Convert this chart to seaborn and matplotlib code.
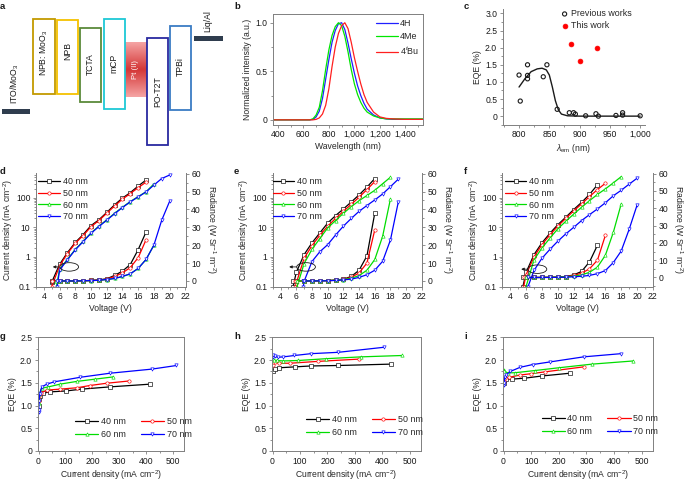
import numpy as np
import pandas as pd
import matplotlib
matplotlib.use("Agg")
import matplotlib.pyplot as plt
import seaborn as sns
from matplotlib.patches import Rectangle, Ellipse
from matplotlib.colors import LinearSegmentedColormap
from matplotlib.ticker import FixedLocator, FixedFormatter, FuncFormatter, MultipleLocator, LogLocator, NullFormatter

sns.set_theme(style="ticks")
plt.rcParams['font.family'] = ['Liberation Sans', 'DejaVu Sans']
plt.rcParams['mathtext.fontset'] = 'custom'
plt.rcParams['mathtext.rm'] = 'Liberation Sans'
plt.rcParams['mathtext.it'] = 'Liberation Sans:italic'
plt.rcParams['axes.unicode_minus'] = True

# ---------------- b: normalized PL spectra
wl = [360, 650, 675, 700, 725, 750, 775, 800, 825, 850, 875, 900, 925, 950, 975,
      1000, 1025, 1050, 1075, 1100, 1150, 1200, 1250, 1300, 1400, 1535]
pl_4H = [0, 0, 0.005, 0.03, 0.09, 0.22, 0.42, 0.62, 0.80, 0.92, 0.99, 1.0, 0.93, 0.79, 0.63,
         0.48, 0.35, 0.25, 0.17, 0.11, 0.05, 0.02, 0.01, 0.005, 0.005, 0.005]
pl_4Me = [0, 0, 0.01, 0.05, 0.13, 0.30, 0.52, 0.72, 0.87, 0.96, 1.0, 0.97, 0.86, 0.70, 0.52,
          0.37, 0.26, 0.18, 0.12, 0.08, 0.04, 0.02, 0.01, 0.01, 0.01, 0.01]
pl_4tBu = [0, 0, 0, 0.005, 0.02, 0.06, 0.15, 0.32, 0.55, 0.75, 0.89, 0.97, 1.0, 0.94, 0.80,
           0.64, 0.50, 0.37, 0.26, 0.18, 0.08, 0.03, 0.015, 0.01, 0.005, 0.005]

# ---------------- c: EQE vs emission wavelength
prev_wl = [800, 802, 814, 814, 814, 840, 846, 863, 883, 890, 893, 910, 927, 931, 960, 971, 971, 1000]
prev_eqe = [1.2, 0.44, 1.5, 1.19, 1.09, 1.15, 1.5, 0.2, 0.1, 0.1, 0.06, 0.01, 0.07, 0.0, 0.02, 0.1, 0.03, 0.01]
this_wl = [885, 900, 929]
this_eqe = [2.1, 1.6, 2.0]
fit_wl = [800, 810, 820, 830, 838, 845, 850, 855, 860, 865, 870, 880, 900, 1000]
fit_eqe = [0.85, 1.1, 1.3, 1.38, 1.4, 1.35, 1.2, 0.85, 0.45, 0.18, 0.06, 0.01, 0.0, 0.0]

# ---------------- d/e/f: J-V-R
thick = [40, 50, 60, 70]
colors = ['#000000', '#ff0000', '#00dd00', '#0000ff']
marks = ['s', 'o', '^', 'v']

d_V40 = [5, 6, 7, 8, 9, 10, 11, 12, 13, 14, 15, 16, 17]
d_J40 = [0.14, 0.56, 1.4, 3.1, 5.7, 11.5, 18, 32, 58, 98, 150, 250, 400]
d_R40 = [0, 0, 0, 0.05, 0.1, 0.3, 0.6, 1.2, 3.1, 5.5, 9.2, 17.5, 27.3]
d_V50 = [5, 6, 7, 8, 9, 10, 11, 12, 13, 14, 15, 16, 17]
d_J50 = [0.1, 0.5, 1.3, 2.9, 5.3, 10.5, 17, 30, 53, 90, 140, 220, 340]
d_R50 = [0, 0, 0, 0.05, 0.1, 0.3, 0.5, 1.0, 2.5, 4.5, 7.5, 13, 23]
d_V60 = [5.6, 6, 7, 8, 9, 10, 11, 12, 13, 14, 15, 16, 17, 18]
d_J60 = [0.1, 0.38, 0.83, 1.8, 3.4, 6.5, 11, 18, 30, 48, 75, 110, 160, 295]
d_R60 = [0, 0, 0, 0, 0.1, 0.2, 0.4, 0.8, 1.4, 2.5, 4, 7, 12, 20]
d_V70 = [5.7, 6, 7, 8, 9, 10, 11, 12, 13, 14, 15, 16, 17, 18, 19, 20]
d_J70 = [0.1, 0.36, 0.8, 1.75, 3.3, 6.3, 10.7, 17.5, 29, 47, 73, 107, 158, 270, 450, 590]
d_R70 = [0, 0, 0, 0, 0.1, 0.2, 0.4, 0.8, 1.4, 2.5, 4, 7, 12, 20, 34, 44.5]

e_V40 = [5.6, 6, 7, 8, 9, 10, 11, 12, 13, 14, 15, 16]
e_J40 = [0.1, 0.3, 1.2, 3.0, 6.5, 14, 25, 42, 72, 126, 230, 450]
e_R40 = [0, 0, 0, 0.05, 0.1, 0.2, 0.5, 1.0, 2.5, 6, 14, 38]
e_V50 = [5.9, 6, 7, 8, 9, 10, 11, 12, 13, 14, 15, 16]
e_J50 = [0.1, 0.13, 0.9, 2.4, 5.4, 11, 20, 35, 60, 105, 190, 355]
e_R50 = [0, 0, 0, 0.05, 0.1, 0.2, 0.4, 0.9, 2, 4.5, 10, 28.6]
e_V60 = [6.1, 7, 8, 9, 10, 11, 12, 13, 14, 15, 16, 17, 18]
e_J60 = [0.1, 0.6, 1.8, 4.2, 9.6, 17, 30, 50, 80, 120, 180, 300, 500]
e_R60 = [0, 0, 0.05, 0.1, 0.2, 0.4, 0.8, 1.5, 3, 6, 12, 25, 46]
e_V70 = [6.9, 7, 8, 9, 10, 11, 12, 13, 14, 15, 16, 17, 18, 19]
e_J70 = [0.1, 0.15, 0.7, 1.5, 2.6, 5.5, 11, 20, 35, 55, 85, 135, 240, 430]
e_R70 = [0, 0, 0, 0.05, 0.1, 0.3, 0.6, 1, 2, 3.5, 6, 11, 23, 44.3]

f_V40 = [5.6, 6, 7, 8, 9, 10, 11, 12, 13, 14, 15]
f_J40 = [0.1, 0.3, 1.2, 3.0, 6.3, 12.3, 22, 40, 70, 130, 275]
f_R40 = [0, 0, 0, 0.05, 0.1, 0.2, 0.5, 1.5, 3.5, 9, 18.6]
f_V50 = [5.7, 6, 7, 8, 9, 10, 11, 12, 13, 14, 15, 16]
f_J50 = [0.1, 0.25, 1.0, 2.6, 5.5, 11, 20, 36, 62, 110, 190, 310]
f_R50 = [0, 0, 0, 0.05, 0.1, 0.2, 0.5, 1.2, 2.5, 5, 10, 24.3]
f_V60 = [6.0, 7, 8, 9, 10, 11, 12, 13, 14, 15, 16, 17, 18]
f_J60 = [0.1, 0.8, 2.0, 4.3, 8.9, 16, 28, 48, 80, 130, 200, 320, 520]
f_R60 = [0, 0, 0.05, 0.1, 0.2, 0.4, 0.8, 1.5, 3, 6, 12.8, 26, 42.5]
f_V70 = [6.25, 7, 8, 9, 10, 11, 12, 13, 14, 15, 16, 17, 18, 19, 20]
f_J70 = [0.1, 0.35, 0.9, 1.8, 3.4, 6, 10, 17, 27, 42, 68, 117, 180, 290, 460]
f_R70 = [0, 0, 0, 0.05, 0.1, 0.2, 0.4, 0.7, 1.2, 2.2, 4, 8.6, 15.3, 27.8, 41.8]

# ---------------- g/h/i: EQE vs current density
g_J40 = [0.5, 2, 5, 15, 43, 101, 160, 265, 415]
g_E40 = [1.0, 1.15, 1.22, 1.27, 1.30, 1.32, 1.36, 1.41, 1.47]
g_J50 = [0.5, 3, 10, 31, 80, 142, 191, 253, 337]
g_E50 = [1.1, 1.22, 1.28, 1.34, 1.36, 1.39, 1.44, 1.49, 1.54]
g_J60 = [0.5, 3, 12, 37, 80, 142, 210, 278]
g_E60 = [1.05, 1.25, 1.38, 1.41, 1.47, 1.53, 1.58, 1.63]
g_J70 = [0.5, 1, 2, 4, 12, 31, 58, 154, 265, 420, 512]
g_E70 = [0.85, 0.9, 1.1, 1.25, 1.41, 1.47, 1.52, 1.62, 1.71, 1.80, 1.88]

h_J40 = [0.5, 9, 24, 82, 140, 240, 430]
h_E40 = [1.77, 1.80, 1.83, 1.85, 1.87, 1.88, 1.91]
h_J50 = [0.5, 2, 9, 24, 64, 164, 314]
h_E50 = [1.9, 1.96, 1.95, 1.93, 1.93, 1.97, 2.02]
h_J60 = [0.5, 5, 15, 39, 94, 196, 323, 473]
h_E60 = [2.02, 2.0, 1.99, 1.98, 1.99, 2.03, 2.07, 2.10]
h_J70 = [0.5, 2, 8, 20, 40, 80, 140, 240, 405]
h_E70 = [2.07, 2.1, 2.08, 2.06, 2.07, 2.1, 2.14, 2.17, 2.28]

i_J40 = [0.5, 3, 10, 30, 75, 140, 240]
i_E40 = [1.5, 1.56, 1.58, 1.58, 1.6, 1.65, 1.71]
i_J50 = [0.5, 5, 20, 60, 100, 150, 290]
i_E50 = [1.55, 1.6, 1.62, 1.67, 1.7, 1.74, 1.85]
i_J60 = [0.5, 3, 15, 40, 115, 200, 320, 470]
i_E60 = [1.78, 1.75, 1.72, 1.72, 1.77, 1.83, 1.91, 1.98]
i_J70 = [0.5, 2, 5, 10, 25, 60, 105, 170, 290, 425]
i_E70 = [1.45, 1.5, 1.62, 1.68, 1.75, 1.84, 1.9, 1.96, 2.07, 2.14]

W, H = 685, 482
fig = plt.figure(figsize=(W / 100, H / 100), dpi=100)
SP = '#808080'
TXT = '#1a1a1a'
FS_T, FS_L, FS_LEG = 6.2, 6.2, 6.4


def px_axes(l, t, r, b):
    return fig.add_axes([l / W, 1 - b / H, (r - l) / W, (b - t) / H])


def style(ax, show=('left', 'bottom', 'top', 'right')):
    for s in ['left', 'bottom', 'top', 'right']:
        ax.spines[s].set_visible(s in show)
        ax.spines[s].set_color(SP)
        ax.spines[s].set_linewidth(0.7)
    ax.tick_params(which='both', direction='out', color=SP, labelsize=FS_T, labelcolor=TXT,
                   width=0.6, pad=1.5)
    ax.tick_params(which='major', length=2.5)
    ax.tick_params(which='minor', length=1.4)
    ax.xaxis.label.set_size(FS_L)
    ax.yaxis.label.set_size(FS_L)


def plabel(x, y, s):
    fig.text(x / W, 1 - y / H, s, fontsize=6.8, fontweight='bold', ha='left', va='top', color='k')


# ================= a: energy level diagram
ax_a = px_axes(0, 0, 230, 150)
ax_a.set_xlim(0, 230)
ax_a.set_ylim(150, 0)
ax_a.axis('off')
boxes = [
    (32.7, 19.3, 55.0, 94.3, '#c39a00', 'NPB: MoO$_3$', 53),
    (56.7, 20.0, 78.3, 94.3, '#f5c200', 'NPB', 51),
    (80.0, 27.7, 101.0, 101.7, '#5b8a3a', 'TCTA', 64),
    (103.7, 19.3, 124.7, 109.0, '#1ec8d6', 'mCP', 63),
    (146.7, 38.3, 168.3, 145.0, '#2a2aa0', 'PO-T2T', 92),
    (170.0, 25.7, 191.0, 110.0, '#3a7cc4', 'TPBi', 67),
]
for x0, y0, x1, y1, c, lab, ty in boxes:
    ax_a.add_patch(Rectangle((x0, y0), x1 - x0, y1 - y0, fill=True, facecolor='white',
                             edgecolor=c, lw=1.3, zorder=3))
    ax_a.text((x0 + x1) / 2, ty, lab, rotation=90, ha='center', va='center', fontsize=6.2, color=TXT, zorder=4)
grad = np.concatenate([np.linspace(0, 1, 30), np.linspace(1, 0, 30)]).reshape(-1, 1)
cm_pt = LinearSegmentedColormap.from_list('pt', ['#f5a3a3', '#d43838'])
ax_a.imshow(grad, cmap=cm_pt, extent=[124.7, 146.7, 97.3, 42.7], aspect='auto', zorder=2)
ax_a.text(135.7, 70, 'Pt (II)', rotation=90, ha='center', va='center', fontsize=5.5, color='white', zorder=4)
ax_a.add_patch(Rectangle((2.3, 109.3), 27.7, 4.5, color='#2f3d4e', lw=0, zorder=3))
ax_a.add_patch(Rectangle((194.3, 36.0), 29.0, 4.5, color='#2f3d4e', lw=0, zorder=3))
ax_a.text(15, 104, 'ITO/MoO$_3$', rotation=90, ha='center', va='bottom', fontsize=6.2, color=TXT)
ax_a.text(208, 32, 'Liq/Al', rotation=90, ha='center', va='bottom', fontsize=6.2, color=TXT)
plabel(0, 2, 'a')

# ================= b: PL spectra
ax_b = px_axes(272.7, 14, 422.7, 124.7)
df_b = pd.DataFrame({'wl': wl * 3, 'I': pl_4H + pl_4Me + pl_4tBu,
                     'dye': ['4H'] * len(wl) + ['4Me'] * len(wl) + ['4$^t$Bu'] * len(wl)})
for name, c in zip(['4H', '4Me', '4$^t$Bu'], ['#1f1fff', '#00e600', '#ff1f1f']):
    sub = df_b[df_b.dye == name]
    sns.lineplot(data=sub, x='wl', y='I', ax=ax_b, color=c, lw=0.9, label=name, legend=False)
ax_b.set_xlim(360, 1535)
ax_b.set_ylim(-0.05, 1.09)
ax_b.xaxis.set_major_locator(MultipleLocator(200))
ax_b.xaxis.set_minor_locator(MultipleLocator(100))
ax_b.xaxis.set_major_formatter(FuncFormatter(lambda v, p: f"{int(v):,}"))
ax_b.yaxis.set_major_locator(FixedLocator([0, 0.5, 1.0]))
ax_b.yaxis.set_major_formatter(FixedFormatter(['0', '0.5', '1.0']))
ax_b.yaxis.set_minor_locator(MultipleLocator(0.25))
ax_b.set_xlabel('Wavelength (nm)', labelpad=2)
ax_b.set_ylabel('Normalized intensity (a.u.)', labelpad=2)
style(ax_b)
ax_b.legend(loc='upper left', bbox_to_anchor=(0.69, 0.955), frameon=False, fontsize=FS_LEG,
            handlelength=2.4, handletextpad=0.3, labelspacing=0.45, borderaxespad=0, borderpad=0)
plabel(234, 2, 'b')

# ================= c: EQE vs lambda_em
ax_c = px_axes(502.7, 9.3, 645, 124.7)
sns.lineplot(x=fit_wl, y=fit_eqe, ax=ax_c, color='k', lw=1.0, legend=False)
sns.scatterplot(x=prev_wl, y=prev_eqe, ax=ax_c, marker='o', s=9, facecolor='none',
                edgecolor='k', linewidth=0.8, label='Previous works', legend=False, zorder=3)
sns.scatterplot(x=this_wl, y=this_eqe, ax=ax_c, marker='o', s=12, color='#ff0000',
                edgecolor='#ff0000', linewidth=0.5, label='This work', legend=False, zorder=3)
ax_c.set_xlim(773, 1008)
ax_c.set_ylim(-0.25, 3.12)
ax_c.xaxis.set_major_locator(MultipleLocator(50))
ax_c.xaxis.set_minor_locator(MultipleLocator(25))
ax_c.xaxis.set_major_formatter(FuncFormatter(lambda v, p: f"{int(v):,}"))
ax_c.yaxis.set_major_locator(MultipleLocator(0.5))
ax_c.yaxis.set_minor_locator(MultipleLocator(0.25))
ax_c.yaxis.set_major_formatter(FuncFormatter(lambda v, p: '0' if abs(v) < 1e-9 else f"{v:.1f}"))
ax_c.set_xlabel(r'$\lambda_{\rm em}$ (nm)', labelpad=2)
ax_c.set_ylabel('EQE (%)', labelpad=2)
style(ax_c, ('left', 'bottom'))
hc, lc = ax_c.get_legend_handles_labels()
ax_c.legend(handles=hc, labels=lc, loc='upper left',
            bbox_to_anchor=(0.41, 1.0), frameon=False, fontsize=FS_LEG, handlelength=0.8,
            handletextpad=0.35, labelspacing=0.3, borderaxespad=0, borderpad=0)
plabel(464, 2, 'c')

# ================= d/e/f: J-V-R
jv_sets = {
    'd': [(d_V40, d_J40, d_R40), (d_V50, d_J50, d_R50), (d_V60, d_J60, d_R60), (d_V70, d_J70, d_R70)],
    'e': [(e_V40, e_J40, e_R40), (e_V50, e_J50, e_R50), (e_V60, e_J60, e_R60), (e_V70, e_J70, e_R70)],
    'f': [(f_V40, f_J40, f_R40), (f_V50, f_J50, f_R50), (f_V60, f_J60, f_R60), (f_V70, f_J70, f_R70)],
}
jv_layout = {
    'd': dict(l=36.0, r=185.7, rlim=(-3.1, 60.2), ell=(0.222, 0.173), arr=0.112, lx=0.015, pl=0),
    'e': dict(l=272.7, r=422.3, rlim=(-3.1, 60.2), ell=(0.223, 0.173), arr=0.11, lx=0.0, pl=234),
    'f': dict(l=502.3, r=653.3, rlim=(-5.2, 60.2), ell=(0.232, 0.153), arr=0.125, lx=0.018, pl=464),
}
for key in ['d', 'e', 'f']:
    lay = jv_layout[key]
    ax = px_axes(lay['l'], 173.3, lay['r'], 286.5)
    ax2 = ax.twinx()
    ax.set_yscale('log')
    for (V, J, R), thk, c, m in zip(jv_sets[key], thick, colors, marks):
        sns.lineplot(x=V, y=J, ax=ax, color=c, lw=0.9, marker=m, markersize=2.4,
                     markerfacecolor='white', markeredgecolor=c, markeredgewidth=0.45,
                     label=f'{thk} nm', legend=False)
        sns.lineplot(x=V, y=R, ax=ax2, color=c, lw=0.9, marker=m, markersize=2.4,
                     markerfacecolor='white', markeredgecolor=c, markeredgewidth=0.45, legend=False)
    ax.set_xlim(3.0, 22.05)
    ax.set_ylim(0.1, 676)
    ax2.set_ylim(*lay['rlim'])
    ax.xaxis.set_major_locator(MultipleLocator(2))
    ax.xaxis.set_minor_locator(MultipleLocator(1))
    ax.yaxis.set_major_locator(FixedLocator([0.1, 1, 10, 100]))
    ax.yaxis.set_major_formatter(FixedFormatter(['0.1', '1', '10', '100']))
    ax.yaxis.set_minor_locator(LogLocator(base=10, subs=np.arange(2, 10) * 1.0))
    ax.yaxis.set_minor_formatter(NullFormatter())
    ax2.yaxis.set_major_locator(MultipleLocator(10))
    ax2.yaxis.set_minor_locator(MultipleLocator(5))
    ax.set_xlabel('Voltage (V)', labelpad=2)
    ax.set_ylabel('Current density (mA cm$^{-2}$)', labelpad=1)
    ax2.set_ylabel('Radiance (W Sr$^{-1}$ m$^{-2}$)', rotation=270, va='bottom', labelpad=2)
    style(ax, ('left', 'bottom', 'right'))
    style(ax2, ('left', 'bottom', 'right'))
    ex, ey = lay['ell']
    ax2.add_patch(Ellipse((ex, ey), 0.125, 0.075, transform=ax2.transAxes, fill=False,
                          lw=0.6, edgecolor='k', zorder=5))
    ax2.annotate('', xy=(lay['arr'], ey), xytext=(ex - 0.0625, ey), xycoords='axes fraction',
                 arrowprops=dict(arrowstyle='-|>', lw=0.6, color='k', mutation_scale=4,
                                 shrinkA=0, shrinkB=0))
    ax2.legend(handles=ax.get_lines()[:4], loc='upper left', bbox_to_anchor=(lay['lx'], 0.965),
               frameon=False, fontsize=FS_LEG, handlelength=2.4, handletextpad=0.35,
               labelspacing=0.3, borderaxespad=0, borderpad=0)
    plabel(lay['pl'], 167, key)

# ================= g/h/i: EQE vs J
eqe_sets = {
    'g': [(g_J40, g_E40), (g_J50, g_E50), (g_J60, g_E60), (g_J70, g_E70)],
    'h': [(h_J40, h_E40), (h_J50, h_E50), (h_J60, h_E60), (h_J70, h_E70)],
    'i': [(i_J40, i_E40), (i_J50, i_E50), (i_J60, i_E60), (i_J70, i_E70)],
}
eqe_layout = {
    'g': dict(l=37.7, r=184.0, lx=0.255, ly=0.295, pl=0),
    'h': dict(l=271.7, r=420.7, lx=0.23, ly=0.32, pl=234),
    'i': dict(l=502.7, r=652.7, lx=0.26, ly=0.326, pl=464),
}
for key in ['g', 'h', 'i']:
    lay = eqe_layout[key]
    ax = px_axes(lay['l'], 337.3, lay['r'], 451)
    for (J, E), thk, c, m in zip(eqe_sets[key], thick, colors, marks):
        sns.lineplot(x=J, y=E, ax=ax, color=c, lw=0.9, marker=m, markersize=2.4,
                     markerfacecolor='white', markeredgecolor=c, markeredgewidth=0.45,
                     label=f'{thk} nm', legend=False)
    ax.set_xlim(-3, 540)
    ax.set_ylim(0, 2.5)
    ax.xaxis.set_major_locator(MultipleLocator(100))
    ax.xaxis.set_minor_locator(MultipleLocator(50))
    ax.yaxis.set_major_locator(MultipleLocator(0.5))
    ax.yaxis.set_minor_locator(MultipleLocator(0.25))
    ax.yaxis.set_major_formatter(FuncFormatter(lambda v, p: '0' if abs(v) < 1e-9 else f"{v:.1f}"))
    ax.set_xlabel('Current density (mA cm$^{-2}$)', labelpad=2)
    ax.set_ylabel('EQE (%)', labelpad=2)
    style(ax)
    ln = ax.get_lines()
    ax.legend(handles=[ln[0], ln[2], ln[1], ln[3]], ncol=2, loc='upper left',
              bbox_to_anchor=(lay['lx'], lay['ly']), frameon=False, fontsize=FS_LEG,
              handlelength=2.6, handletextpad=0.3, labelspacing=0.45, columnspacing=1.7,
              borderaxespad=0, borderpad=0)
    plabel(lay['pl'], 332, key)

fig.savefig('out.png', dpi=100)
